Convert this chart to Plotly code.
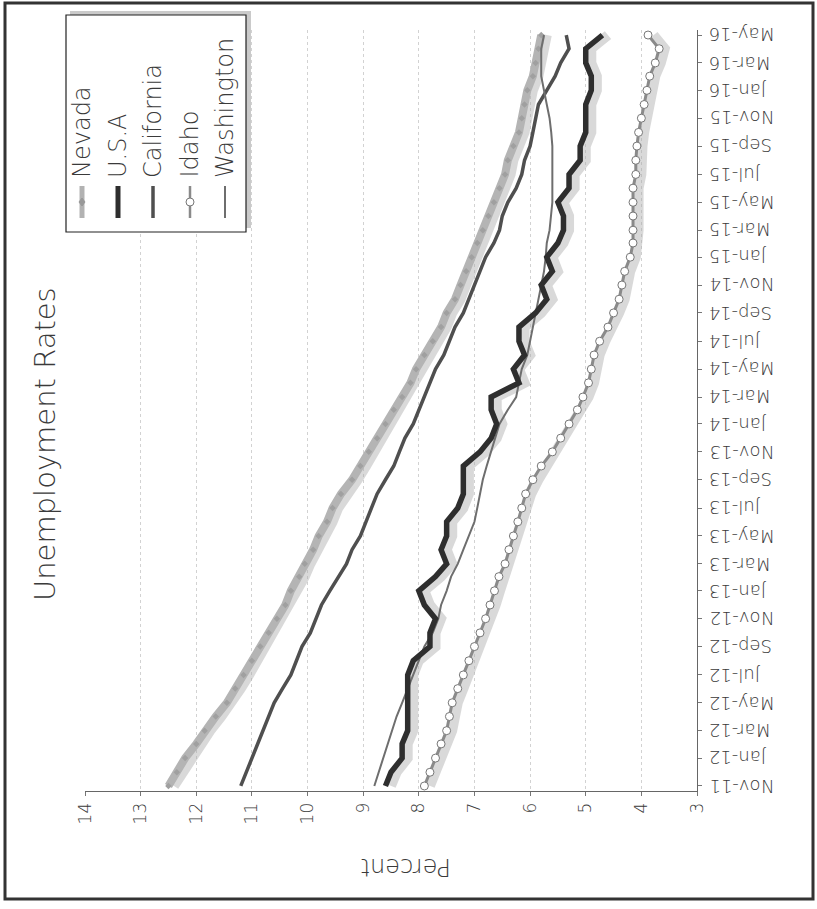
import plotly.graph_objects as go
import pandas as pd

# ---------------- data ----------------
months = pd.date_range("2011-11-01", "2016-05-01", freq="MS")

nevada = [12.5, 12.35, 12.2, 12.0, 11.85, 11.65, 11.45, 11.3, 11.15, 11.0, 10.85,
          10.7, 10.55, 10.4, 10.3, 10.15, 10.05, 9.9, 9.8, 9.65, 9.55, 9.4, 9.2,
          9.05, 8.9, 8.75, 8.6, 8.45, 8.3, 8.15, 8.05, 7.9, 7.75, 7.6, 7.5, 7.35,
          7.25, 7.15, 7.05, 6.95, 6.85, 6.75, 6.65, 6.55, 6.45, 6.4, 6.3, 6.2,
          6.15, 6.1, 6.05, 5.95, 5.9, 5.85, 5.8]
usa = [8.6, 8.5, 8.3, 8.3, 8.2, 8.2, 8.2, 8.2, 8.2, 8.1, 7.8, 7.8, 7.7, 7.9,
       8.0, 7.7, 7.5, 7.6, 7.5, 7.5, 7.3, 7.2, 7.2, 7.2, 6.9, 6.7, 6.6, 6.7,
       6.7, 6.2, 6.3, 6.1, 6.2, 6.2, 5.9, 5.7, 5.8, 5.6, 5.7, 5.5, 5.4, 5.4,
       5.5, 5.3, 5.3, 5.1, 5.1, 5.0, 5.0, 5.0, 4.9, 4.9, 5.0, 5.0, 4.7]
california = [11.2, 11.1, 11.0, 10.9, 10.8, 10.7, 10.6, 10.45, 10.3, 10.2, 10.1,
              9.95, 9.85, 9.75, 9.6, 9.45, 9.3, 9.2, 9.05, 8.95, 8.85, 8.75, 8.6,
              8.45, 8.35, 8.25, 8.1, 8.0, 7.9, 7.8, 7.7, 7.55, 7.45, 7.35, 7.2,
              7.1, 7.0, 6.9, 6.8, 6.65, 6.55, 6.5, 6.4, 6.25, 6.15, 6.1, 6.0,
              5.95, 5.9, 5.85, 5.7, 5.55, 5.45, 5.3, 5.35]
idaho = [7.9, 7.8, 7.7, 7.6, 7.5, 7.45, 7.4, 7.3, 7.2, 7.1, 7.0, 6.9, 6.8,
         6.72, 6.64, 6.56, 6.45, 6.38, 6.3, 6.22, 6.15, 6.08, 5.95, 5.8, 5.6,
         5.45, 5.3, 5.15, 5.05, 4.95, 4.9, 4.85, 4.75, 4.6, 4.5, 4.4, 4.35,
         4.3, 4.2, 4.15, 4.15, 4.15, 4.15, 4.15, 4.1, 4.1, 4.08, 4.05, 4.0,
         3.95, 3.9, 3.85, 3.75, 3.68, 3.88]
washington = [8.8, 8.72, 8.64, 8.56, 8.48, 8.4, 8.3, 8.2, 8.1, 8.0, 7.9, 7.75,
              7.65, 7.6, 7.5, 7.42, 7.3, 7.2, 7.1, 7.0, 6.95, 6.9, 6.85, 6.78,
              6.7, 6.62, 6.55, 6.4, 6.25, 6.2, 6.15, 6.05, 6.0, 5.95, 5.9, 5.85,
              5.8, 5.75, 5.72, 5.7, 5.65, 5.62, 5.6, 5.6, 5.6, 5.6, 5.6, 5.62,
              5.65, 5.7, 5.75, 5.8, 5.8, 5.8, 5.75]

value_ticks = list(range(3, 15))
date_tick_labels = ["Nov-11", "Jan-12", "Mar-12", "May-12", "Jul-12", "Sep-12",
                    "Nov-12", "Jan-13", "Mar-13", "May-13", "Jul-13", "Sep-13",
                    "Nov-13", "Jan-14", "Mar-14", "May-14", "Jul-14", "Sep-14",
                    "Nov-14", "Jan-15", "Mar-15", "May-15", "Jul-15", "Sep-15",
                    "Nov-15", "Jan-16", "Mar-16", "May-16"]
legend_names = ["Nevada", "U.S.A", "California", "Idaho", "Washington"]

# ---------------- layout geometry ----------------
W, H = 817, 909
L, R, T, B = 85, 697, 30, 791
FONT = "DejaVu Sans"
TXT = "#3a3a3a"


def px(x):
    return (x - L) / (R - L)


def py(y):
    return (B - y) / (B - T)


fig = go.Figure()
shadow = dict(color="rgba(170,170,170,0.45)", width=10)
for series in (nevada, usa, idaho):
    fig.add_trace(go.Scatter(x=[v - 0.1 for v in series], y=months, mode="lines",
                             line=shadow, showlegend=False, hoverinfo="skip"))

fig.add_trace(go.Scatter(x=nevada, y=months, mode="lines+markers", name="Nevada",
                         line=dict(color="#b4b4b4", width=8),
                         marker=dict(symbol="diamond", size=5, color="#a0a0a0")))
fig.add_trace(go.Scatter(x=california, y=months, mode="lines", name="California",
                         line=dict(color="#4f4f4f", width=3.5)))
fig.add_trace(go.Scatter(x=washington, y=months, mode="lines", name="Washington",
                         line=dict(color="#6e6e6e", width=2)))
fig.add_trace(go.Scatter(x=usa, y=months, mode="lines", name="U.S.A",
                         line=dict(color="#2e2e2e", width=5.5)))
fig.add_trace(go.Scatter(x=idaho, y=months, mode="lines+markers", name="Idaho",
                         line=dict(color="#8a8a8a", width=3),
                         marker=dict(symbol="circle", size=8, color="white",
                                     line=dict(color="#777", width=1))))

tickvals_dates = list(months[::2])

fig.update_layout(
    width=W, height=H,
    margin=dict(l=L, r=W - R, t=T, b=H - B),
    paper_bgcolor="white", plot_bgcolor="white",
    showlegend=False,
    font=dict(family=FONT, color=TXT),
    xaxis=dict(range=[14, 3], tickvals=value_ticks, ticktext=[str(v) for v in value_ticks],
               tickangle=-90, tickfont=dict(size=17, color=TXT, weight=300),
               showgrid=True, gridcolor="#d2d2d2", griddash="dot", gridwidth=1,
               showline=True, linecolor="#666", linewidth=1,
               ticks="outside", ticklen=4, tickcolor="#777",
               zeroline=False, fixedrange=True),
    yaxis=dict(range=["2011-10-21", "2016-05-12"], side="right",
               tickvals=tickvals_dates, showticklabels=False,
               showgrid=False, showline=True, linecolor="#666", linewidth=1,
               ticks="outside", ticklen=4, tickcolor="#777",
               zeroline=False, fixedrange=True),
)

shapes = []
annotations = []
# date tick labels (upside down, to the right of the axis)
for d, lab in zip(tickvals_dates, date_tick_labels):
    annotations.append(dict(text=lab, xref="paper", yref="y", x=px(707), y=d,
                            xanchor="left", yanchor="middle", textangle=180,
                            showarrow=False, font=dict(size=18, color=TXT, family=FONT, weight=300)))
# outer frame
shapes.append(dict(type="rect", xref="paper", yref="paper",
                   x0=px(5), x1=px(813), y0=py(899), y1=py(3),
                   line=dict(color="#333", width=3)))
# legend box shadow + box
shapes.append(dict(type="rect", xref="paper", yref="paper",
                   x0=px(70), x1=px(251), y0=py(228), y1=py(11),
                   line=dict(width=0), fillcolor="rgba(150,150,150,0.5)"))
shapes.append(dict(type="rect", xref="paper", yref="paper",
                   x0=px(66), x1=px(246), y0=py(232), y1=py(15),
                   line=dict(color="#222", width=1.2), fillcolor="white"))

legend_x = [82, 118, 153, 190, 225]
legend_styles = [("#b2b2b2", 5), ("#2e2e2e", 5), ("#4f4f4f", 3.5), ("#8a8a8a", 2.5), ("#6e6e6e", 2)]
for name, lx, (col, wd) in zip(legend_names, legend_x, legend_styles):
    shapes.append(dict(type="line", xref="paper", yref="paper",
                       x0=px(lx), x1=px(lx), y0=py(218), y1=py(186),
                       line=dict(color=col, width=wd)))
    annotations.append(dict(text=name, xref="paper", yref="paper", x=px(lx), y=py(180),
                            xanchor="center", yanchor="bottom", textangle=-90,
                            showarrow=False, font=dict(size=24, color=TXT, family=FONT, weight=300)))
# Nevada legend diamond
shapes.append(dict(type="path", xref="paper", yref="paper",
                   path=f"M {px(82)},{py(198)} L {px(85)},{py(202)} L {px(82)},{py(206)} L {px(79)},{py(202)} Z",
                   fillcolor="#999", line=dict(color="#999", width=1)))
# Idaho legend circle
shapes.append(dict(type="circle", xref="paper", yref="paper",
                   x0=px(186), x1=px(194), y0=py(206), y1=py(198),
                   fillcolor="white", line=dict(color="#777", width=1)))

# title and axis title
annotations.append(dict(text="Unemployment Rates", xref="paper", yref="paper",
                        x=px(45), y=py(444), xanchor="center", yanchor="middle",
                        textangle=-90, showarrow=False,
                        font=dict(size=29, color=TXT, family=FONT, weight=300)))
annotations.append(dict(text="Percent", xref="paper", yref="paper",
                        x=px(406), y=py(867), xanchor="center", yanchor="middle",
                        textangle=180, showarrow=False,
                        font=dict(size=24, color=TXT, family=FONT, weight=300)))

fig.update_layout(shapes=shapes, annotations=annotations)
fig.write_html("out.html")
